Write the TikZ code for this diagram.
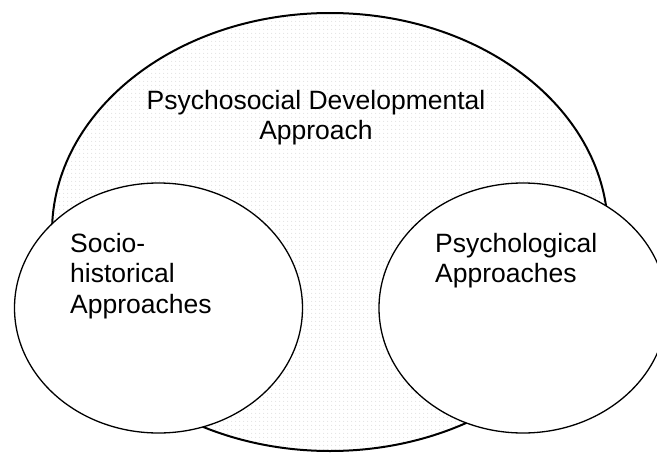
\documentclass[tikz,border=0pt]{standalone}
\usepackage{fontspec}
\setmainfont{Liberation Sans}
\usetikzlibrary{patterns.meta}
\tikzstyle{canvas} = [x = 1pt, y = -1pt]
\definecolor{dotColor}{RGB}{226,226,226}
\tikzstyle{outerOvalStyle} = [color=black, line width=2pt, pattern={Dots[distance=4pt, radius=.7pt]}, pattern color=dotColor]
\tikzstyle{innerOvalStyle} = [color=black, fill=white, line width=1.3pt]
\tikzstyle{ovalText} = [font=\fontsize{26.5}{30.5}\selectfont, inner sep=0pt]
\newcommand{\innerOval}[2]{\filldraw [innerOvalStyle] (#1, #2) ellipse [x radius = 144, y radius = 125];}

\begin{document}
\begin{tikzpicture}[canvas]
        \useasboundingbox (0, 0) rectangle (657, 453);
        % big oval, then the two approaches over it
        \draw [outerOvalStyle] (330, 232) ellipse [x radius = 278, y radius = 219];
        \innerOval{158.5}{308}
        \innerOval{523}{308}

        \node [ovalText, align=center, anchor=north] (psychosocial) at (316, 90) {Psychosocial Developmental\\Approach};
        \node [ovalText, align=left, anchor=north west] (sociohistorical) at (70, 233) {Socio-\\historical\\Approaches};
        \node [ovalText, align=left, anchor=north west] (psychological) at (435, 233) {Psychological\\Approaches};
      \end{tikzpicture}
\end{document}
